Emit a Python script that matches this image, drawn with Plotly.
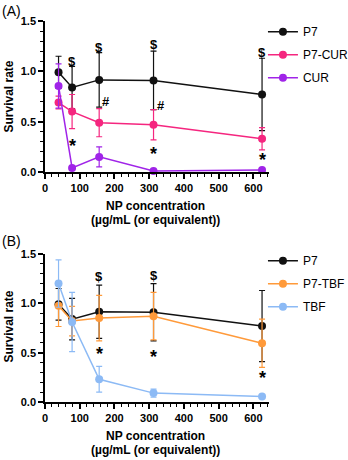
import plotly.graph_objects as go

# concentrations (ug/mL)
conc = [39, 78, 156, 312.5, 625]

# panel A
p7 = [0.99, 0.84, 0.915, 0.91, 0.77]
p7_err = [0.16, 0.21, 0.27, 0.29, 0.36]
p7cur = [0.69, 0.60, 0.49, 0.47, 0.33]
p7cur_err = [0.063, 0.17, 0.14, 0.15, 0.11]
cur = [0.855, 0.04, 0.15, 0.01, 0.02]
cur_err = [0.22, 0.02, 0.10, 0.01, 0.01]

# panel B
p7tbf = [0.975, 0.82, 0.85, 0.87, 0.595]
p7tbf_err = [0.21, 0.15, 0.23, 0.24, 0.245]
tbf = [1.20, 0.81, 0.23, 0.09, 0.055]
tbf_err = [0.24, 0.30, 0.13, 0.04, 0.01]

# significance marks: (x, y, symbol)
marks_a = [(78, 1.10, "$"), (156, 1.24, "$"), (312.5, 1.27, "$"), (625, 1.19, "$"),
           (156, 0.70, "#"), (312.5, 0.665, "#"),
           (78, 0.31, "*"), (312.5, 0.23, "*"), (625, 0.17, "*")]
marks_b = [(156, 1.27, "$"), (312.5, 1.28, "$"),
           (156, 0.54, "*"), (312.5, 0.51, "*"), (625, 0.29, "*")]

FONT = "Arial, Liberation Sans, sans-serif"
BLACK = "#111111"
PINK = "#f5267f"
PURPLE = "#a024e8"
ORANGE = "#ff9a3a"
BLUE = "#8cbaf5"


def series(y, err, name, color, xa, ya, legend):
    return go.Scatter(
        x=conc, y=y, name=name, mode="lines+markers", legendgroup=name + ya,
        line=dict(color=color, width=1.5),
        marker=dict(color=color, size=8),
        error_y=dict(type="data", array=err, color=color, thickness=1.2, width=3),
        xaxis=xa, yaxis=ya, legend=legend, cliponaxis=False,
    )


fig = go.Figure()
fig.add_trace(series(p7, p7_err, "P7", BLACK, "x", "y", "legend"))
fig.add_trace(series(p7cur, p7cur_err, "P7-CUR", PINK, "x", "y", "legend"))
fig.add_trace(series(cur, cur_err, "CUR", PURPLE, "x", "y", "legend"))
fig.add_trace(series(p7, p7_err, "P7", BLACK, "x2", "y2", "legend2"))
fig.add_trace(series(p7tbf, p7tbf_err, "P7-TBF", ORANGE, "x2", "y2", "legend2"))
fig.add_trace(series(tbf, tbf_err, "TBF", BLUE, "x2", "y2", "legend2"))

xax = dict(range=[0, 645], tickvals=[0, 100, 200, 300, 400, 500, 600], automargin=False,
           showline=True, linecolor="black", linewidth=1.5, ticks="outside",
           ticklen=5, tickwidth=1.5, tickcolor="black", showgrid=False, zeroline=False,
           tickfont=dict(family=FONT, size=11, color="black", weight="bold"),
           minor=dict(dtick=20, tick0=0, ticks="outside", ticklen=3, tickwidth=1.2,
                      tickcolor="black", showgrid=False))
yax = dict(range=[0, 1.5], tickvals=[0, 0.5, 1.0, 1.5], tickformat=".1f", automargin=False,
           showline=True, linecolor="black", linewidth=1.5, ticks="outside",
           ticklen=5, tickwidth=1.5, tickcolor="black", showgrid=False, zeroline=False,
           tickfont=dict(family=FONT, size=11, color="black", weight="bold"),
           minor=dict(dtick=0.1, tick0=0, ticks="outside", ticklen=3, tickwidth=1.2,
                      tickcolor="black", showgrid=False))

top_dom = [0.6037, 1.0]
bot_dom = [0.0, 0.3885]

leg = dict(x=0.973, xanchor="left", yanchor="top", bgcolor="rgba(0,0,0,0)",
           font=dict(family=FONT, size=12, color="black"), tracegroupgap=4)

fig.update_layout(
    template="none",
    width=348, height=460,
    margin=dict(l=45, r=79, t=21, b=58, autoexpand=False),
    paper_bgcolor="white", plot_bgcolor="white",
    font=dict(family=FONT, color="black"),
    xaxis=dict(xax, anchor="y"),
    yaxis=dict(yax, domain=top_dom, anchor="x"),
    xaxis2=dict(xax, anchor="y2"),
    yaxis2=dict(yax, domain=bot_dom, anchor="x2"),
    legend=dict(leg, y=1.01),
    legend2=dict(leg, y=0.409),
)

annots = []
for ax, marks in [("", marks_a), ("2", marks_b)]:
    for xv, yv, s in marks:
        annots.append(dict(x=xv, y=yv, xref="x" + ax, yref="y" + ax, text=s, showarrow=False,
                           xshift=7 if s == "#" else 0,
                           yshift=-5 if s == "*" else 0,
                           font=dict(family=FONT, size=18 if s == "*" else 13,
                                     color="black", weight="bold")))

for lab, ytop, ybot in [("(A)", 0, 172), ("(B)", 230, 402)]:
    annots.append(dict(text=lab, x=-45 / 224, xanchor="left", y=(402 - (ytop + 11)) / 381,
                       yanchor="middle", xref="paper", yref="paper", showarrow=False,
                       font=dict(family=FONT, size=14, color="black")))
    mid = (ytop + 21 + ybot) / 2
    annots.append(dict(text="<b>Survival rate</b>", textangle=-90, x=-37 / 224,
                       y=(402 - mid) / 381, xref="paper", yref="paper", showarrow=False,
                       xanchor="center", yanchor="middle",
                       font=dict(family=FONT, size=12, color="black")))
    annots.append(dict(text="<b>NP concentration</b>", x=(155 - 45) / 224,
                       y=(402 - (ybot + 34)) / 381, xref="paper", yref="paper",
                       xanchor="center", yanchor="middle",
                       showarrow=False, font=dict(family=FONT, size=12, color="black")))
    annots.append(dict(text="<b>(µg/mL (or equivalent))</b>", x=(155 - 45) / 224,
                       y=(402 - (ybot + 48)) / 381, xref="paper", yref="paper",
                       xanchor="center", yanchor="middle",
                       showarrow=False, font=dict(family=FONT, size=12, color="black")))

fig.update_layout(annotations=annots)
fig.write_html("out.html", config={"displayModeBar": False},
               post_script="document.body.style.margin='0';document.body.style.overflow='hidden';")
